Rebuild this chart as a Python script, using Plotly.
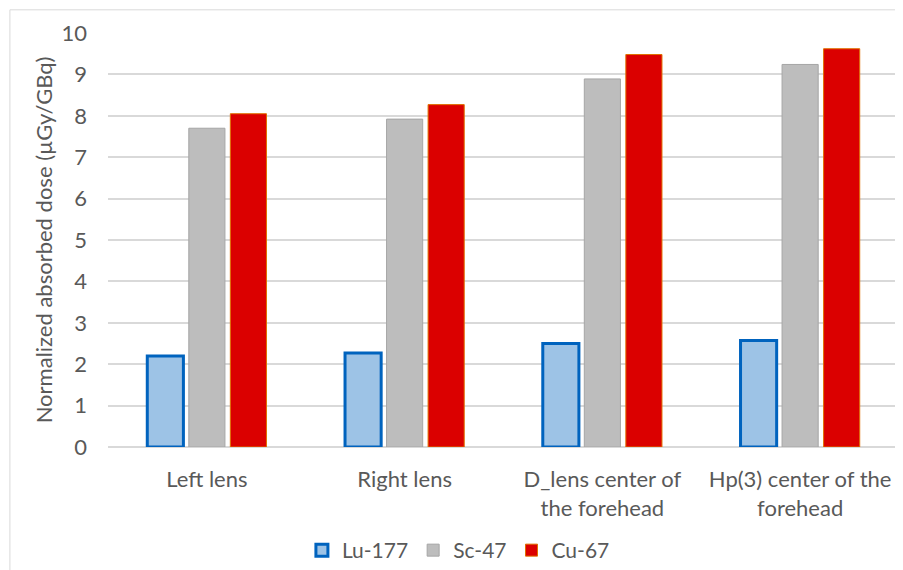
import plotly.graph_objects as go

categories = ["Left lens", "Right lens", "D_lens center of<br>the forehead", "Hp(3) center of the<br>forehead"]
lu177 = [2.2, 2.27, 2.5, 2.57]
sc47 = [7.7, 7.92, 8.89, 9.24]
cu67 = [8.05, 8.27, 9.48, 9.62]
y_ticks = list(range(0, 11))

font_family = "Lato, Open Sans, sans-serif"
text_color = "#595959"
fs = 22

fig = go.Figure()
fig.add_trace(go.Bar(name="Lu-177", x=categories, y=lu177,
                     marker=dict(color="#9DC3E6", line=dict(color="#0063BE", width=3))))
fig.add_trace(go.Bar(name="Sc-47", x=categories, y=sc47,
                     marker=dict(color="#BDBDBD", line=dict(color="#A6A6A6", width=1))))
fig.add_trace(go.Bar(name="Cu-67", x=categories, y=cu67,
                     marker=dict(color="#DB0000", line=dict(color="#E07000", width=1))))

fig.update_layout(
    width=895, height=562,
    margin=dict(l=100, r=4, t=25, b=123, autoexpand=False),
    paper_bgcolor="white", plot_bgcolor="white",
    barmode="group", bargap=0.37, bargroupgap=0.13,
    font=dict(family=font_family, color=text_color, size=fs),
    showlegend=True,
    legend=dict(orientation="h", x=0.443, xanchor="center", y=-0.25, yanchor="middle",
                font=dict(size=21, color=text_color), itemwidth=30, traceorder="normal"),
    xaxis=dict(showgrid=False, showline=False, ticks="", tickfont=dict(size=fs, color=text_color),
               ticklabelstandoff=17),
    yaxis=dict(range=[0, 10], tickvals=y_ticks, showgrid=True, gridcolor="#D9D9D9", gridwidth=1.5,
               zeroline=True, zerolinecolor="#D9D9D9", zerolinewidth=1.5, showline=False, ticks="",
               tickfont=dict(size=fs, color=text_color), ticklabelstandoff=20,
               title=dict(text="Normalized absorbed dose (µGy/GBq)", font=dict(size=fs, color=text_color),
                          standoff=2)),
    shapes=[dict(type="rect", xref="paper", yref="paper", x0=-0.124, x1=1.2, y0=-0.4, y1=1.056,
                 line=dict(color="#D9D9D9", width=1), fillcolor="rgba(0,0,0,0)", layer="below")],
)

fig.write_html("out.html")
